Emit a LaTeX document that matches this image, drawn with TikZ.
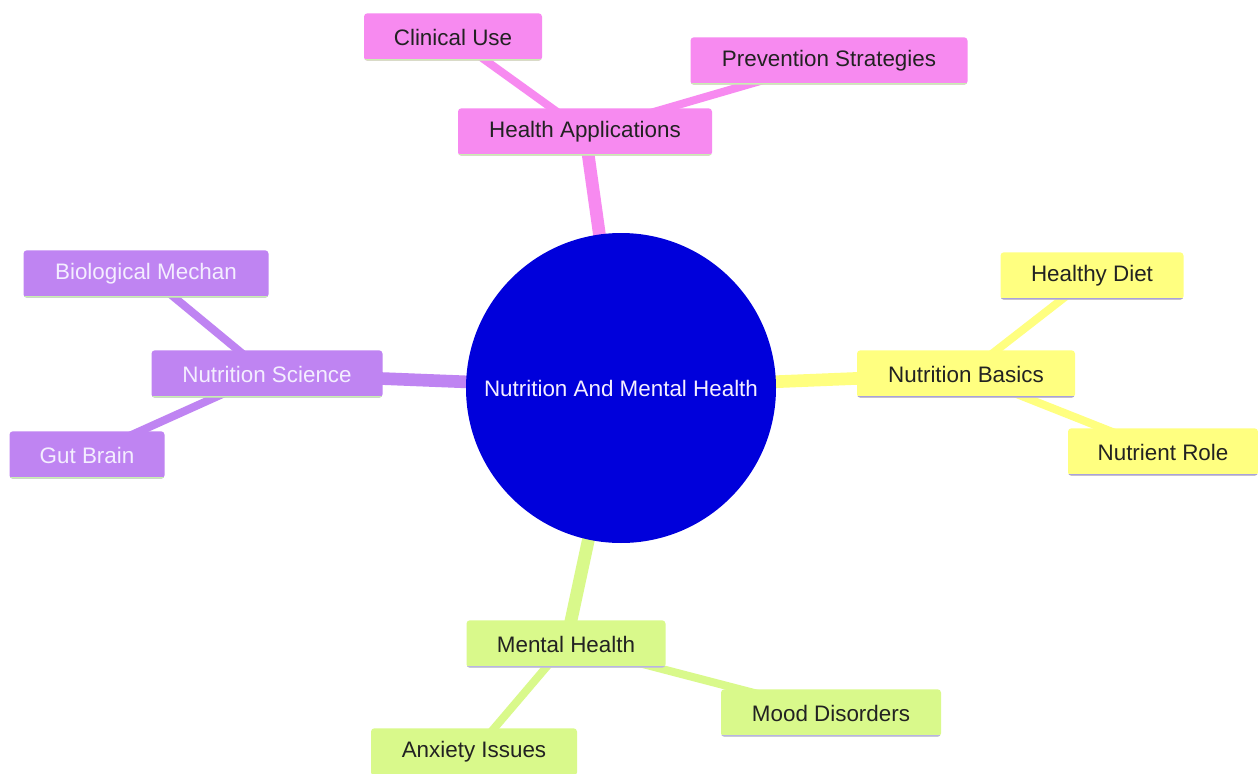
\documentclass[tikz,border=0pt]{standalone}
\usepackage{fontspec}
\setmainfont{Liberation Sans}
\usetikzlibrary{backgrounds}
\definecolor{cpink}{HTML}{F78AF0}
\definecolor{cpurple}{HTML}{BF84F2}
\definecolor{cyellow}{HTML}{FFFF80}
\definecolor{cgreen}{HTML}{D9F98B}
\definecolor{cblue}{HTML}{0000DB}
\definecolor{bgreen}{HTML}{C8F0B0}
\definecolor{bpurple}{HTML}{A8A0E0}
\definecolor{darktext}{HTML}{222222}
\definecolor{lighttext}{HTML}{F4EEFF}
\tikzset{
  box/.style 2 args={rectangle, rounded corners=2.5pt, fill=#1, minimum height=35.5pt,
    inner sep=0pt, font=\fontsize{16.8}{19}\selectfont, text=darktext,
    path picture={\draw[line width=3pt,#2] (path picture bounding box.south west) -- (path picture bounding box.south east);}},
  pinkbox/.style={box={cpink}{bgreen}},
  purplebox/.style={box={cpurple}{bgreen}, text=lighttext},
  yellowbox/.style={box={cyellow}{bpurple}},
  greenbox/.style={box={cgreen}{bpurple!80!white}},
  mainedge/.style={line width=9.5pt},
  subedge/.style={line width=6pt},
}
\begin{document}
\begin{tikzpicture}[x=0.75pt,y=-0.75pt]
\useasboundingbox (0,0) rectangle (1258,774);
% root
\node[circle, fill=cblue, minimum size=232.5pt, inner sep=0pt, text=lighttext,
  font=\fontsize{16.8}{19}\selectfont] (root) at (621,388) {Nutrition And Mental Health};
% health applications
\node[pinkbox, minimum width=190.5pt] (ha) at (585,132) {Health Applications};
\node[pinkbox, minimum width=133.5pt] (cu) at (453,37) {Clinical Use};
\node[pinkbox, minimum width=207.75pt] (ps) at (829,61) {Prevention Strategies};
% nutrition science
\node[purplebox, minimum width=173.25pt] (ns) at (267,374) {Nutrition Science};
\node[purplebox, minimum width=183.75pt] (bm) at (146,274) {Biological Mechan};
\node[purplebox, minimum width=116.25pt] (gb) at (87,455) {Gut Brain};
% nutrition basics
\node[yellowbox, minimum width=163.5pt] (nb) at (966,374) {Nutrition Basics};
\node[yellowbox, minimum width=137.25pt] (hd) at (1092,276) {Healthy Diet};
\node[yellowbox, minimum width=142.5pt] (nr) at (1163,452) {Nutrient Role};
% mental health
\node[greenbox, minimum width=149.25pt] (mh) at (566,644) {Mental Health};
\node[greenbox, minimum width=154.5pt] (ai) at (474,752) {Anxiety Issues};
\node[greenbox, minimum width=165pt] (md) at (831,713) {Mood Disorders};
\begin{pgfonlayer}{background}
\fill[white] (0,0) rectangle (1258,774);
\draw[mainedge, cpink] (root.center) -- (ha.center);
\draw[mainedge, cpurple] (root.center) -- (ns.center);
\draw[mainedge, cyellow] (root.center) -- (nb.center);
\draw[mainedge, cgreen] (root.center) -- (mh.center);
\draw[subedge, cpink] (ha.center) -- (cu.center);
\draw[subedge, cpink] (ha.center) -- (ps.center);
\draw[subedge, cpurple] (ns.center) -- (bm.center);
\draw[subedge, cpurple] (ns.center) -- (gb.center);
\draw[subedge, cyellow] (nb.center) -- (hd.center);
\draw[subedge, cyellow] (nb.center) -- (nr.center);
\draw[subedge, cgreen] (mh.center) -- (ai.center);
\draw[subedge, cgreen] (mh.center) -- (md.center);
\end{pgfonlayer}
\end{tikzpicture}
\end{document}
